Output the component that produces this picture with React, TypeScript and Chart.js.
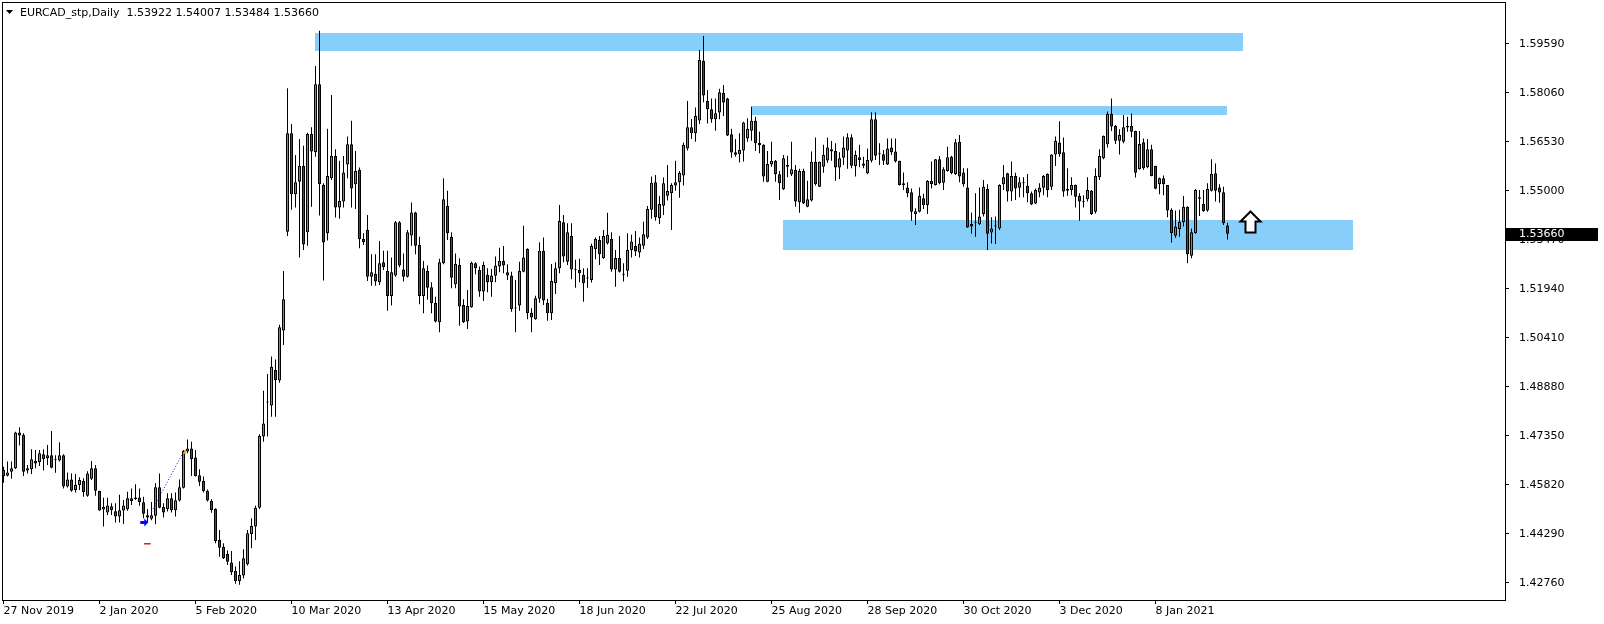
import React, { useEffect, useRef } from "react";
import { Chart, registerables } from "chart.js";

Chart.register(...registerables);

const FONT = '"DejaVu Sans", sans-serif';

// ---- daily candles (27 Nov 2019 ... early Feb 2021) ----
const opens = [
  1.4629,1.4611,1.4623,1.4634,1.4746,1.4738,1.4627,1.4631,1.4657,1.4653,
  1.4678,1.4665,1.4675,1.4659,1.4658,1.4675,1.4577,1.4599,1.4566,1.4581,
  1.4594,1.4548,1.4601,1.4634,1.4563,1.4505,1.4496,1.4515,1.4500,1.4483,
  1.4502,1.4506,1.4540,1.4543,1.4543,1.4528,1.4487,1.4476,1.4486,1.4575,
  1.4513,1.4507,1.4540,1.4503,1.4533,1.4573,1.4686,1.4696,1.4668,1.4612,
  1.4594,1.4563,1.4532,1.4507,1.4410,1.4389,1.4366,1.4340,1.4313,1.4282,
  1.4299,1.4334,1.4429,1.4452,1.4511,1.4733,1.4839,1.4830,1.4941,1.4908,
  1.5064,1.5373,1.5680,1.5490,1.5529,1.5578,1.5371,1.5678,1.5621,1.5833,
  1.5519,1.5368,1.5540,1.5609,1.5448,1.5467,1.5583,1.5646,1.5521,1.5566,
  1.5350,1.5378,1.5232,1.5241,1.5215,1.5277,1.5250,1.5172,1.5236,1.5402,
  1.5255,1.5232,1.5361,1.5433,1.5331,1.5172,1.5250,1.5199,1.5150,1.5090,
  1.5274,1.5453,1.5357,1.5209,1.5269,1.5144,1.5092,1.5137,1.5274,1.5253,
  1.5186,1.5238,1.5215,1.5235,1.5264,1.5281,1.5246,1.5236,1.5134,1.5142,
  1.5248,1.5319,1.5120,1.5099,1.5163,1.5313,1.5151,1.5118,1.5212,1.5259,
  1.5402,1.5279,1.5359,1.5255,1.5253,1.5238,1.5227,1.5222,1.5318,1.5347,
  1.5290,1.5337,1.5350,1.5255,1.5291,1.5238,1.5251,1.5316,1.5328,1.5308,
  1.5329,1.5355,1.5441,1.5527,1.5415,1.5454,1.5485,1.5493,1.5517,1.5527,
  1.5548,1.5633,1.5699,1.5680,1.5720,1.5906,1.5781,1.5755,1.5724,1.5745,
  1.5807,1.5789,1.5677,1.5621,1.5615,1.5626,1.5664,1.5688,1.5719,1.5650,
  1.5644,1.5529,1.5583,1.5594,1.5552,1.5505,1.5581,1.5552,1.5566,1.5465,
  1.5562,1.5451,1.5470,1.5591,1.5513,1.5576,1.5595,1.5630,1.5625,1.5573,
  1.5604,1.5626,1.5668,1.5578,1.5605,1.5586,1.5555,1.5594,1.5724,1.5615,
  1.5615,1.5583,1.5636,1.5623,1.5594,1.5524,1.5511,1.5496,1.5428,1.5435,
  1.5477,1.5456,1.5531,1.5519,1.5599,1.5526,1.5562,1.5607,1.5553,1.5654,
  1.5558,1.5511,1.5397,1.5402,1.5396,1.5428,1.5506,1.5370,1.5389,1.5383,
  1.5521,1.5555,1.5498,1.5547,1.5510,1.5527,1.5516,1.5493,1.5461,1.5495,
  1.5510,1.5553,1.5513,1.5614,1.5651,1.5621,1.5506,1.5503,1.5519,1.5484,
  1.5467,1.5474,1.5501,1.5435,1.5543,1.5602,1.5646,1.5740,1.5703,1.5657,
  1.5654,1.5703,1.5703,1.5687,1.5568,1.5652,1.5574,1.5630,1.5578,1.5521,
  1.5540,1.5519,1.5441,1.5360,1.5381,1.5402,1.5451,1.5298,1.5368,1.5480,
  1.5459,1.5439,1.5501,1.5555,1.5511,1.5496,1.53922,
];
const highs = [
  1.4639,1.4655,1.4655,1.4748,1.4762,1.4743,1.4644,1.4693,1.4691,1.4691,
  1.4693,1.4707,1.4750,1.4675,1.4715,1.4678,1.4621,1.4618,1.4616,1.4606,
  1.4603,1.4625,1.4657,1.4644,1.4564,1.4542,1.4542,1.4525,1.4525,1.4551,
  1.4535,1.4561,1.4571,1.4584,1.4571,1.4545,1.4507,1.4529,1.4587,1.4618,
  1.4525,1.4556,1.4556,1.4558,1.4599,1.4691,1.4724,1.4717,1.4691,1.4631,
  1.4608,1.4568,1.4537,1.4509,1.4441,1.4400,1.4377,1.4376,1.4327,1.4344,
  1.4381,1.4441,1.4478,1.4517,1.4740,1.4876,1.4928,1.4983,1.4974,1.5082,
  1.5250,1.5821,1.5709,1.5612,1.5662,1.5641,1.5682,1.5699,1.5890,1.6000,
  1.5524,1.5694,1.5800,1.5630,1.5594,1.5609,1.5670,1.5719,1.5625,1.5573,
  1.5368,1.5425,1.5302,1.5302,1.5344,1.5313,1.5313,1.5292,1.5406,1.5406,
  1.5305,1.5378,1.5464,1.5435,1.5357,1.5281,1.5267,1.5215,1.5170,1.5288,
  1.5540,1.5501,1.5371,1.5305,1.5290,1.5162,1.5191,1.5279,1.5277,1.5264,
  1.5279,1.5259,1.5256,1.5295,1.5323,1.5328,1.5271,1.5248,1.5222,1.5279,
  1.5391,1.5321,1.5134,1.5173,1.5340,1.5355,1.5163,1.5272,1.5277,1.5456,
  1.5425,1.5399,1.5399,1.5285,1.5288,1.5259,1.5259,1.5335,1.5355,1.5359,
  1.5378,1.5432,1.5371,1.5316,1.5359,1.5274,1.5368,1.5363,1.5375,1.5355,
  1.5404,1.5453,1.5545,1.5550,1.5484,1.5542,1.5581,1.5524,1.5594,1.5562,
  1.5651,1.5781,1.5725,1.5761,1.5940,1.5984,1.5815,1.5789,1.5789,1.5819,
  1.5831,1.5791,1.5694,1.5662,1.5680,1.5716,1.5727,1.5763,1.5732,1.5685,
  1.5646,1.5625,1.5654,1.5597,1.5562,1.5612,1.5610,1.5654,1.5581,1.5569,
  1.5569,1.5532,1.5623,1.5667,1.5592,1.5644,1.5667,1.5656,1.5649,1.5621,
  1.5670,1.5680,1.5677,1.5626,1.5644,1.5607,1.5633,1.5746,1.5746,1.5649,
  1.5628,1.5664,1.5664,1.5664,1.5594,1.5558,1.5527,1.5508,1.5446,1.5511,
  1.5491,1.5534,1.5592,1.5600,1.5609,1.5574,1.5638,1.5610,1.5662,1.5675,
  1.5571,1.5571,1.5433,1.5493,1.5511,1.5534,1.5521,1.5418,1.5420,1.5521,
  1.5581,1.5557,1.5592,1.5557,1.5543,1.5543,1.5553,1.5498,1.5508,1.5524,
  1.5550,1.5555,1.5615,1.5670,1.5718,1.5667,1.5571,1.5543,1.5520,1.5493,
  1.5487,1.5543,1.5503,1.5571,1.5630,1.5673,1.5748,1.5789,1.5706,1.5693,
  1.5737,1.5732,1.5742,1.5688,1.5687,1.5664,1.5662,1.5644,1.5579,1.5542,
  1.5548,1.5519,1.5446,1.5439,1.5441,1.5484,1.5452,1.5383,1.5506,1.5503,
  1.5503,1.5524,1.5599,1.5586,1.5521,1.5513,1.54007,
];
const lows = [
  1.4589,1.4608,1.4601,1.4632,1.4705,1.4610,1.4618,1.4616,1.4634,1.4641,
  1.4627,1.4644,1.4634,1.4620,1.4655,1.4571,1.4574,1.4561,1.4558,1.4566,
  1.4545,1.4545,1.4597,1.4548,1.4501,1.4452,1.4488,1.4488,1.4465,1.4465,
  1.4460,1.4501,1.4519,1.4535,1.4517,1.4478,1.4467,1.4472,1.4459,1.4509,
  1.4480,1.4499,1.4496,1.4483,1.4530,1.4571,1.4681,1.4610,1.4608,1.4579,
  1.4558,1.4530,1.4495,1.4400,1.4358,1.4351,1.4332,1.4301,1.4273,1.4270,
  1.4290,1.4330,1.4384,1.4410,1.4507,1.4717,1.4733,1.4795,1.4795,1.4901,
  1.5019,1.5359,1.5441,1.5448,1.5292,1.5316,1.5329,1.5451,1.5607,1.5423,
  1.5220,1.5345,1.5534,1.5417,1.5413,1.5448,1.5540,1.5448,1.5444,1.5321,
  1.5331,1.5219,1.5204,1.5204,1.5206,1.5253,1.5126,1.5142,1.5232,1.5262,
  1.5217,1.5230,1.5329,1.5302,1.5146,1.5118,1.5160,1.5118,1.5089,1.5059,
  1.5271,1.5347,1.5196,1.5196,1.5079,1.5088,1.5069,1.5135,1.5240,1.5170,
  1.5156,1.5184,1.5170,1.5215,1.5246,1.5243,1.5222,1.5123,1.5059,1.5126,
  1.5246,1.5099,1.5059,1.5098,1.5151,1.5144,1.5095,1.5097,1.5178,1.5243,
  1.5277,1.5269,1.5224,1.5198,1.5215,1.5154,1.5198,1.5214,1.5287,1.5269,
  1.5288,1.5333,1.5248,1.5201,1.5245,1.5217,1.5232,1.5292,1.5297,1.5292,
  1.5319,1.5350,1.5413,1.5407,1.5397,1.5425,1.5470,1.5378,1.5501,1.5479,
  1.5517,1.5626,1.5662,1.5654,1.5709,1.5777,1.5711,1.5713,1.5688,1.5724,
  1.5734,1.5672,1.5604,1.5607,1.5589,1.5592,1.5654,1.5657,1.5625,1.5618,
  1.5529,1.5527,1.5576,1.5529,1.5472,1.5503,1.5543,1.5547,1.5451,1.5432,
  1.5459,1.5449,1.5467,1.5517,1.5512,1.5557,1.5588,1.5594,1.5532,1.5537,
  1.5581,1.5569,1.5571,1.5545,1.5574,1.5571,1.5552,1.5589,1.5597,1.5581,
  1.5581,1.5581,1.5612,1.5589,1.5517,1.5503,1.5480,1.5407,1.5394,1.5433,
  1.5444,1.5428,1.5508,1.5517,1.5521,1.5503,1.5560,1.5552,1.5550,1.5527,
  1.5513,1.5385,1.5366,1.5357,1.5394,1.5420,1.5316,1.5336,1.5334,1.5378,
  1.5503,1.5467,1.5469,1.5472,1.5480,1.5480,1.5465,1.5456,1.5459,1.5480,
  1.5487,1.5480,1.5503,1.5578,1.5607,1.5482,1.5485,1.5487,1.5448,1.5407,
  1.5448,1.5467,1.5425,1.5430,1.5534,1.5599,1.5636,1.5687,1.5647,1.5614,
  1.5649,1.5685,1.5668,1.5542,1.5566,1.5566,1.5571,1.5546,1.5505,1.5490,
  1.5487,1.5418,1.5339,1.5354,1.5357,1.5389,1.5274,1.5290,1.5366,1.5422,
  1.5435,1.5435,1.5498,1.5467,1.5463,1.5394,1.53484,
];
const closes = [
  1.4610,1.4621,1.4634,1.4746,1.4736,1.4623,1.4634,1.4662,1.4649,1.4681,
  1.4663,1.4675,1.4636,1.4659,1.4675,1.4577,1.4599,1.4564,1.4582,1.4597,
  1.4559,1.4618,1.4634,1.4564,1.4502,1.4513,1.4518,1.4504,1.4483,1.4503,
  1.4518,1.4540,1.4532,1.4538,1.4528,1.4492,1.4480,1.4487,1.4575,1.4511,
  1.4496,1.4540,1.4503,1.4534,1.4575,1.4688,1.4696,1.4663,1.4610,1.4592,
  1.4563,1.4533,1.4504,1.4407,1.4386,1.4353,1.4342,1.4309,1.4282,1.4301,
  1.4353,1.4431,1.4454,1.4511,1.4735,1.4774,1.4839,1.4951,1.4910,1.5074,
  1.5162,1.5680,1.5490,1.5527,1.5578,1.5333,1.5678,1.5623,1.5833,1.5521,
  1.5339,1.5547,1.5609,1.5448,1.5469,1.5558,1.5646,1.5508,1.5562,1.5350,
  1.5340,1.5232,1.5246,1.5217,1.5274,1.5262,1.5172,1.5246,1.5402,1.5267,
  1.5232,1.5371,1.5433,1.5329,1.5172,1.5259,1.5198,1.5149,1.5092,1.5277,
  1.5474,1.5368,1.5229,1.5272,1.5139,1.5090,1.5141,1.5276,1.5259,1.5186,
  1.5269,1.5215,1.5236,1.5267,1.5281,1.5267,1.5236,1.5131,1.5133,1.5250,
  1.5292,1.5118,1.5105,1.5165,1.5313,1.5158,1.5118,1.5219,1.5259,1.5406,
  1.5295,1.5371,1.5255,1.5254,1.5243,1.5212,1.5230,1.5328,1.5350,1.5302,
  1.5359,1.5363,1.5255,1.5291,1.5248,1.5237,1.5316,1.5342,1.5311,1.5335,
  1.5365,1.5444,1.5526,1.5418,1.5459,1.5524,1.5500,1.5519,1.5527,1.5557,
  1.5644,1.5699,1.5680,1.5734,1.5909,1.5798,1.5755,1.5724,1.5743,1.5808,
  1.5776,1.5673,1.5620,1.5613,1.5628,1.5714,1.5694,1.5719,1.5649,1.5643,
  1.5545,1.5584,1.5594,1.5552,1.5524,1.5602,1.5576,1.5568,1.5467,1.5562,
  1.5461,1.5474,1.5591,1.5521,1.5591,1.5612,1.5636,1.5623,1.5573,1.5602,
  1.5636,1.5668,1.5579,1.5612,1.5597,1.5579,1.5597,1.5724,1.5610,1.5616,
  1.5594,1.5633,1.5621,1.5592,1.5519,1.5519,1.5493,1.5435,1.5437,1.5485,
  1.5456,1.5531,1.5522,1.5599,1.5524,1.5568,1.5605,1.5555,1.5652,1.5545,
  1.5521,1.5386,1.5389,1.5401,1.5420,1.5513,1.5366,1.5383,1.5391,1.5519,
  1.5543,1.5498,1.5547,1.5508,1.5527,1.5524,1.5493,1.5458,1.5503,1.5511,
  1.5547,1.5503,1.5614,1.5656,1.5615,1.5498,1.5501,1.5519,1.5482,1.5467,
  1.5466,1.5503,1.5428,1.5547,1.5609,1.5672,1.5740,1.5701,1.5657,1.5675,
  1.5699,1.5698,1.5685,1.5557,1.5647,1.5571,1.5630,1.5547,1.5507,1.5540,
  1.5521,1.5439,1.5368,1.5389,1.5404,1.5451,1.5302,1.5371,1.5503,1.5476,
  1.5437,1.5506,1.5553,1.5501,1.5495,1.5399,1.53660,
];

// ---- axes ----
const dateLabels = [
  "27 Nov 2019", "2 Jan 2020", "5 Feb 2020", "10 Mar 2020", "13 Apr 2020",
  "15 May 2020", "18 Jun 2020", "22 Jul 2020", "25 Aug 2020", "28 Sep 2020",
  "30 Oct 2020", "3 Dec 2020", "8 Jan 2021",
];
const DATE_STEP = 24; // bars between date labels
const priceTicks = [
  1.4276, 1.4429, 1.4582, 1.4735, 1.4888, 1.5041,
  1.5194, 1.5347, 1.55, 1.5653, 1.5806, 1.5959,
];
const Y_MIN = 1.42226;
const Y_MAX = 1.6087;
const X_MIN = -0.375;
const X_MAX = 375.375;

// ---- chart objects (bar index / price) ----
const zoneFrom = [77.9, 186.9, 194.9];
const zoneTo = [309.9, 305.9, 337.4];
const zoneTop = [1.5994, 1.5765, 1.5409];
const zoneBottom = [1.5938, 1.5737, 1.5316];
const arrowAt = { bar: 311.6, price: 1.5437 };
const trendFrom = { bar: 37.0, price: 1.4498 };
const trendTo = { bar: 44.8, price: 1.4681 };
const buyMark = { bar: 35.2, price: 1.4465 };
const redMark = { from: 35.1, to: 36.8, price: 1.4401 };
const goldMark = { bar: 45.35, price: 1.4685 };
const titleText = "EURCAD_stp,Daily  1.53922 1.54007 1.53484 1.53660";
const lastPrice = 1.5366;

const BULL = "#22cc22";
const BEAR = "#cc1414";
const ZONE = "#87cefa";

const overlay = {
  id: "mtOverlay",
  beforeDatasetsDraw(chart: any) {
    const { ctx, chartArea: ca, scales } = chart;
    const x = scales.x, y = scales.y;
    ctx.save();
    ctx.beginPath();
    ctx.rect(ca.left, ca.top, ca.right - ca.left, ca.bottom - ca.top);
    ctx.clip();
    ctx.fillStyle = ZONE;
    zoneFrom.forEach((f, k) => {
      const x0 = Math.round(x.getPixelForValue(f));
      const x1 = Math.round(x.getPixelForValue(zoneTo[k]));
      const y0 = Math.round(y.getPixelForValue(zoneTop[k]));
      const y1 = Math.round(y.getPixelForValue(zoneBottom[k]));
      ctx.fillRect(x0, y0, x1 - x0, y1 - y0);
    });
    ctx.restore();
  },
  afterDatasetsDraw(chart: any) {
    const { ctx, scales } = chart;
    const x = scales.x, y = scales.y;
    ctx.save();
    // dotted trend line
    ctx.strokeStyle = "#0000ff";
    ctx.lineWidth = 1;
    ctx.setLineDash([1, 2]);
    ctx.beginPath();
    ctx.moveTo(x.getPixelForValue(trendFrom.bar), y.getPixelForValue(trendFrom.price));
    ctx.lineTo(x.getPixelForValue(trendTo.bar), y.getPixelForValue(trendTo.price));
    ctx.stroke();
    ctx.setLineDash([]);
    // buy arrow mark
    const bx = x.getPixelForValue(buyMark.bar), by = y.getPixelForValue(buyMark.price);
    ctx.fillStyle = "#0000ff";
    ctx.beginPath();
    ctx.moveTo(bx - 4, by - 1.5);
    ctx.lineTo(bx, by - 1.5);
    ctx.lineTo(bx, by - 4);
    ctx.lineTo(bx + 4, by);
    ctx.lineTo(bx, by + 4);
    ctx.lineTo(bx, by + 1.5);
    ctx.lineTo(bx - 4, by + 1.5);
    ctx.closePath();
    ctx.fill();
    // red dash
    ctx.fillStyle = "#dd2020";
    const rx0 = x.getPixelForValue(redMark.from), rx1 = x.getPixelForValue(redMark.to);
    ctx.fillRect(rx0, Math.round(y.getPixelForValue(redMark.price)), rx1 - rx0, 1.5);
    // gold mark
    ctx.fillStyle = "#e8a317";
    const gx = x.getPixelForValue(goldMark.bar), gy = y.getPixelForValue(goldMark.price);
    ctx.fillRect(gx - 1, gy - 2, 2, 4);
    // outline up arrow
    const ax = Math.round(x.getPixelForValue(arrowAt.bar)) + 0.5;
    const ay = Math.round(y.getPixelForValue(arrowAt.price)) + 0.5;
    ctx.beginPath();
    ctx.moveTo(ax, ay);
    ctx.lineTo(ax + 10, ay + 10);
    ctx.lineTo(ax + 5, ay + 10);
    ctx.lineTo(ax + 5, ay + 21);
    ctx.lineTo(ax - 5, ay + 21);
    ctx.lineTo(ax - 5, ay + 10);
    ctx.lineTo(ax - 10, ay + 10);
    ctx.closePath();
    ctx.fillStyle = "#ffffff";
    ctx.fill();
    ctx.strokeStyle = "#000000";
    ctx.lineWidth = 2;
    ctx.lineJoin = "miter";
    ctx.stroke();
    ctx.restore();
  },
  afterDraw(chart: any) {
    const { ctx, chartArea: ca, scales } = chart;
    const y = scales.y;
    ctx.save();
    // frame
    ctx.strokeStyle = "#000";
    ctx.lineWidth = 1;
    ctx.strokeRect(ca.left + 0.5, ca.top - 0.5, ca.right - ca.left, ca.bottom - ca.top + 1);
    // title
    ctx.fillStyle = "#000";
    ctx.beginPath();
    ctx.moveTo(6, 10);
    ctx.lineTo(13, 10);
    ctx.lineTo(9.5, 14);
    ctx.closePath();
    ctx.fill();
    ctx.font = "11px " + FONT;
    ctx.textBaseline = "middle";
    ctx.textAlign = "left";
    ctx.fillText(titleText, 20, 13);
    // last price label
    const ly = Math.round(y.getPixelForValue(lastPrice));
    ctx.fillStyle = "#000";
    ctx.fillRect(ca.right + 1, ly - 6, 92, 13);
    ctx.fillStyle = "#fff";
    ctx.fillText(lastPrice.toFixed(5), ca.right + 14, ly + 0.5);
    ctx.restore();
  },
};

export default function App() {
  const ref = useRef<HTMLCanvasElement>(null);
  useEffect(() => {
    document.body.style.margin = "0";
    const canvas = ref.current;
    if (!canvas) return;
    const bodyData = opens.map((o, i) => ({ x: i, y: [o, closes[i]] }));
    const wickData = lows.map((l, i) => ({ x: i, y: [l, highs[i]] }));
    const bodyColors = opens.map((o, i) => (closes[i] >= o ? BULL : BEAR));
    const chart = new Chart(canvas, {
      type: "bar",
      data: {
        datasets: [
          {
            data: bodyData as any,
            backgroundColor: bodyColors,
            borderColor: "#000",
            borderWidth: 1,
            borderSkipped: false,
            barThickness: 3,
            minBarLength: 1,
            grouped: false,
            inflateAmount: 0,
          } as any,
          {
            data: wickData as any,
            backgroundColor: "#000",
            borderWidth: 0,
            barThickness: 1,
            grouped: false,
            inflateAmount: 0,
          } as any,
        ],
      },
      plugins: [overlay],
      options: {
        animation: false,
        responsive: false,
        devicePixelRatio: 1,
        events: [],
        layout: { padding: { left: 2, top: 3, right: 0, bottom: 0 } },
        plugins: { legend: { display: false }, tooltip: { enabled: false } },
        scales: {
          x: {
            type: "linear",
            min: X_MIN,
            max: X_MAX,
            offset: false,
            border: { display: false },
            grid: { offset: false, drawOnChartArea: false, drawTicks: true, tickLength: 4, color: "#000" },
            ticks: {
              autoSkip: false,
              maxRotation: 0,
              minRotation: 0,
              align: "start",
              padding: 1,
              color: "#000",
              font: { family: FONT, size: 11 },
              callback: (v: any) => dateLabels[Math.round(Number(v) / DATE_STEP)] ?? "",
            },
            afterBuildTicks: (axis: any) => {
              axis.ticks = dateLabels.map((_, k) => ({ value: k * DATE_STEP }));
            },
            afterFit: (axis: any) => {
              axis.height = 24;
              axis.paddingLeft = 0;
              axis.paddingRight = 0;
            },
          },
          y: {
            type: "linear",
            position: "right",
            min: Y_MIN,
            max: Y_MAX,
            border: { display: false },
            grid: { drawOnChartArea: false, drawTicks: true, tickLength: 4, color: "#000" },
            ticks: {
              padding: 10,
              color: "#000",
              font: { family: FONT, size: 11 },
              callback: (v: any) => Number(v).toFixed(5),
            },
            afterBuildTicks: (axis: any) => {
              axis.ticks = priceTicks.map((v) => ({ value: v }));
            },
            afterFit: (axis: any) => {
              axis.width = 99;
              axis.paddingTop = 0;
              axis.paddingBottom = 0;
            },
          },
        },
      } as any,
    });
    return () => chart.destroy();
  }, []);
  return (
    <div style={{ width: 1604, height: 624, background: "#fff" }}>
      <canvas ref={ref} width={1604} height={624} style={{ display: "block" }} />
    </div>
  );
}
